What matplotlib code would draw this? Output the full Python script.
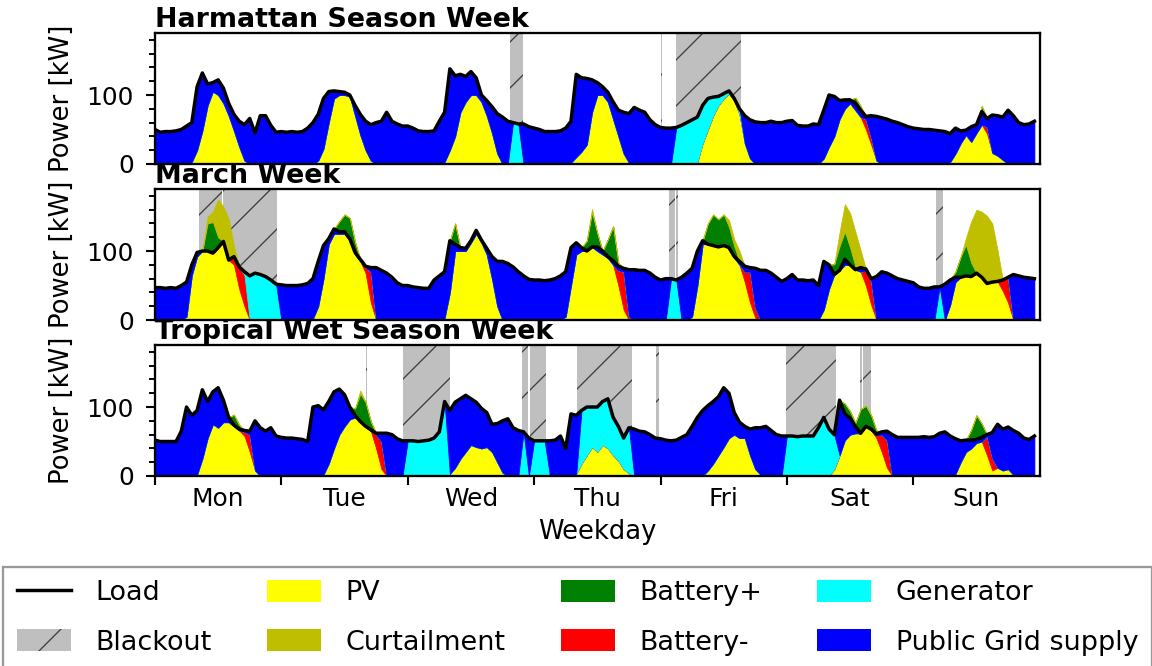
#!/usr/bin/env python3
"""
Weekly dispatch of the hybrid mini-grid: three representative weeks
(Harmattan, March, tropical wet season), hourly values in kW.
Stack under the load: PV, battery discharge, generator, public grid.
Stacked above the load: battery charging and curtailed PV.
"""

import numpy as np
import matplotlib
matplotlib.use('Agg')
import matplotlib.pyplot as plt
from matplotlib.lines import Line2D
from matplotlib.patches import Patch
from matplotlib.ticker import (MultipleLocator, AutoMinorLocator, FixedLocator,
                               FixedFormatter, NullFormatter)

DAYS = ['Mon', 'Tue', 'Wed', 'Thu', 'Fri', 'Sat', 'Sun']
TITLES = ['Harmattan Season Week', 'March Week', 'Tropical Wet Season Week']

# ---- Harmattan week (hourly, Mon 00:00 .. Sun 23:00) ----
HARM_LOAD = [
    50, 46, 47, 47, 48, 50, 55, 60, 112, 132, 116, 118, 122, 110, 88, 72, 62, 57, 66, 45, 70, 70, 56, 46,
    47, 46, 47, 46, 47, 52, 60, 72, 95, 105, 106, 105, 104, 100, 85, 72, 62, 57, 60, 62, 75, 62, 58, 55,
    55, 52, 48, 47, 47, 48, 62, 75, 138, 128, 130, 127, 134, 125, 100, 92, 83, 73, 68, 62, 60, 58, 58, 54,
    52, 50, 47, 47, 47, 48, 52, 62, 130, 125, 124, 122, 118, 112, 104, 90, 78, 75, 73, 82, 78, 75, 64, 57,
    53, 52, 52, 53, 56, 60, 64, 68, 85, 95, 97, 98, 102, 106, 95, 80, 70, 64, 61, 60, 60, 62, 60, 60,
    62, 63, 56, 55, 55, 58, 57, 78, 100, 98, 92, 93, 93, 88, 78, 69, 70, 69, 67, 65, 62, 60, 57, 54,
    52, 51, 50, 50, 49, 48, 47, 44, 52, 48, 49, 54, 57, 76, 66, 71, 70, 68, 78, 70, 60, 57, 58, 62,
]
HARM_PV = [
    0, 0, 0, 0, 0, 0, 0, 3, 20, 48, 85, 105, 100, 88, 70, 48, 25, 5, 0, 0, 0, 0, 0, 0,
    0, 0, 0, 0, 0, 0, 0, 5, 22, 60, 95, 100, 100, 98, 70, 42, 20, 5, 0, 0, 0, 0, 0, 0,
    0, 0, 0, 0, 0, 0, 0, 3, 20, 40, 75, 90, 100, 100, 90, 70, 45, 15, 0, 0, 0, 0, 0, 0,
    0, 0, 0, 0, 0, 0, 0, 2, 10, 18, 28, 75, 100, 100, 90, 65, 40, 15, 2, 0, 0, 0, 0, 0,
    0, 0, 0, 0, 0, 0, 0, 3, 30, 50, 70, 85, 95, 102, 92, 72, 30, 8, 0, 0, 0, 0, 0, 0,
    0, 0, 0, 0, 0, 0, 0, 8, 25, 40, 65, 80, 88, 78, 68, 50, 28, 5, 0, 0, 0, 0, 0, 0,
    0, 0, 0, 0, 0, 0, 0, 3, 15, 30, 42, 32, 45, 57, 44, 16, 12, 6, 0, 0, 0, 0, 0, 0,
]
HARM_BAT_DIS = {135: 15, 136: 10, 158: 10}
HARM_BAT_CHG = {133: 8, 134: 6, 157: 8}
HARM_CURT = {}
HARM_BLACKOUT = [(67.4, 69.8), (96.1, 96.3), (99.0, 111.3)]

# ---- March week ----
MAR_LOAD = [
    47, 47, 46, 47, 46, 50, 55, 80, 98, 100, 100, 97, 105, 114, 87, 92, 77, 70, 64, 68, 66, 63, 58, 52,
    51, 50, 50, 50, 51, 53, 60, 85, 108, 118, 132, 128, 128, 118, 98, 88, 78, 76, 76, 72, 68, 62, 54, 50,
    50, 48, 47, 46, 46, 58, 64, 70, 115, 110, 105, 104, 115, 130, 116, 104, 92, 85, 85, 82, 77, 70, 64, 59,
    58, 58, 57, 58, 60, 64, 70, 105, 112, 105, 100, 106, 106, 100, 92, 86, 78, 75, 73, 73, 72, 72, 68, 62,
    58, 60, 60, 58, 62, 68, 75, 100, 115, 110, 108, 106, 108, 105, 92, 85, 78, 76, 75, 72, 72, 68, 62, 56,
    60, 66, 58, 58, 57, 58, 50, 85, 80, 66, 72, 88, 80, 73, 76, 74, 60, 63, 70, 68, 64, 60, 58, 56,
    54, 48, 46, 46, 48, 48, 52, 58, 62, 62, 64, 63, 68, 62, 53, 55, 56, 58, 62, 66, 64, 62, 61, 60,
]
MAR_PV = [
    0, 0, 0, 0, 0, 0, 5, 65, 92, 100, 100, 97, 105, 114, 87, 80, 45, 20, 0, 0, 0, 0, 0, 0,
    0, 0, 0, 0, 0, 0, 2, 20, 60, 110, 125, 125, 125, 115, 95, 85, 68, 25, 0, 0, 0, 0, 0, 0,
    0, 0, 0, 0, 0, 0, 0, 3, 40, 100, 100, 100, 112, 125, 112, 95, 60, 20, 0, 0, 0, 0, 0, 0,
    0, 0, 0, 0, 0, 0, 5, 50, 95, 100, 100, 106, 100, 95, 90, 80, 50, 15, 0, 0, 0, 0, 0, 0,
    0, 0, 0, 0, 0, 0, 5, 50, 110, 110, 108, 106, 108, 105, 90, 80, 55, 25, 3, 0, 0, 0, 0, 0,
    0, 0, 0, 0, 0, 0, 0, 15, 45, 66, 72, 80, 80, 73, 70, 50, 22, 0, 0, 0, 0, 0, 0, 0,
    0, 0, 0, 0, 0, 0, 0, 22, 55, 62, 64, 63, 68, 62, 53, 55, 56, 42, 25, 0, 0, 0, 0, 0,
]
MAR_BAT_DIS = {15: 12, 16: 32, 17: 45, 40: 8, 41: 45, 88: 22, 89: 55, 90: 5,
               112: 15, 113: 45, 114: 15, 135: 22, 136: 35, 161: 16, 162: 37}
MAR_BAT_CHG = {10: 40, 11: 45, 12: 15, 35: 15, 36: 25, 37: 30, 38: 15, 57: 30,
               82: 15, 83: 50, 84: 20, 86: 25, 87: 50, 88: 5,
               105: 30, 106: 45, 107: 40, 108: 45, 109: 30, 110: 15,
               129: 15, 130: 35, 131: 40, 132: 25, 133: 5,
               152: 8, 153: 30, 154: 45, 155: 20}
MAR_CURT = {10: 10, 11: 15, 12: 55, 13: 50, 14: 60, 15: 15, 83: 5,
            109: 10, 110: 10, 111: 15, 130: 20, 131: 40, 132: 50, 133: 50, 134: 25,
            154: 10, 155: 60, 156: 92, 157: 95, 158: 98, 159: 85, 160: 45}
MAR_BLACKOUT = [(8.35, 12.75), (12.85, 23.2), (97.6, 98.8), (99.0, 99.3), (148.3, 149.6)]

# ---- Tropical wet season week ----
TROP_LOAD = [
    52, 50, 50, 50, 50, 65, 100, 88, 95, 125, 108, 122, 128, 110, 85, 74, 68, 66, 65, 80, 70, 65, 70, 58,
    56, 55, 55, 54, 53, 50, 100, 102, 96, 108, 122, 126, 118, 100, 88, 79, 72, 67, 62, 62, 62, 60, 54, 51,
    51, 51, 50, 51, 52, 55, 64, 108, 95, 107, 112, 117, 112, 107, 98, 92, 75, 76, 80, 83, 70, 66, 64, 55,
    51, 51, 51, 51, 52, 58, 40, 90, 88, 95, 100, 100, 100, 108, 112, 85, 72, 55, 70, 68, 65, 64, 60, 55,
    54, 52, 51, 52, 56, 60, 72, 85, 95, 102, 108, 115, 128, 120, 92, 78, 72, 68, 70, 70, 72, 66, 60, 58,
    58, 58, 57, 58, 58, 58, 70, 85, 68, 60, 110, 90, 84, 72, 62, 72, 68, 61, 64, 65, 60, 56, 56, 56,
    56, 56, 57, 56, 57, 62, 64, 58, 54, 51, 52, 52, 53, 56, 60, 63, 75, 68, 71, 66, 62, 55, 53, 58,
]
TROP_PV = [
    0, 0, 0, 0, 0, 0, 0, 0, 2, 25, 55, 75, 70, 78, 78, 72, 66, 58, 35, 8, 0, 0, 0, 0,
    0, 0, 0, 0, 0, 0, 0, 0, 2, 18, 40, 60, 72, 82, 85, 79, 72, 65, 40, 10, 0, 0, 0, 0,
    0, 0, 0, 0, 0, 0, 0, 0, 3, 12, 25, 35, 45, 42, 40, 42, 35, 20, 5, 0, 0, 0, 0, 0,
    0, 0, 0, 0, 0, 0, 0, 0, 3, 18, 30, 42, 35, 45, 40, 30, 22, 10, 4, 1, 0, 0, 0, 0,
    0, 0, 0, 0, 0, 0, 0, 0, 0, 8, 18, 30, 42, 55, 60, 55, 55, 30, 10, 2, 0, 0, 0, 0,
    0, 0, 0, 0, 0, 0, 0, 0, 0, 10, 30, 52, 60, 62, 62, 72, 66, 55, 35, 12, 0, 0, 0, 0,
    0, 0, 0, 0, 0, 0, 0, 0, 3, 20, 35, 40, 48, 50, 30, 8, 12, 8, 10, 2, 0, 0, 0, 0,
]
TROP_BAT_DIS = {17: 6, 18: 25, 42: 20, 43: 40, 137: 4, 138: 25, 139: 40, 158: 28, 159: 18}
TROP_BAT_CHG = {15: 15, 16: 6, 38: 10, 39: 40, 40: 35, 41: 12,
                131: 15, 132: 10, 133: 5, 134: 35, 135: 30, 136: 20, 137: 5,
                155: 15, 156: 35, 157: 20}
TROP_CURT = {39: 5}
TROP_BLACKOUT = [(40.15, 40.3), (47.1, 55.95), (69.7, 70.8), (71.3, 74.2), (80.2, 90.6),
                 (95.2, 95.7), (119.9, 129.3), (133.8, 134.2), (134.4, 135.9)]

C_PV, C_CURT, C_CHG, C_DIS = 'yellow', '#bfbf00', 'green', 'red'
C_GEN, C_GRID, C_OFF = 'cyan', 'blue', '#bfbfbf'
DPI = 138


def dense(d, n=168):
    a = np.zeros(n)
    for h, v in d.items():
        a[h] = v
    return a


def draw_week(ax, load, pv, bdis, bchg, curt, blackouts):
    hours = np.arange(len(load))
    load = np.asarray(load, float)
    pv = np.asarray(pv, float)
    bdis, bchg, curt = dense(bdis), dense(bchg), dense(curt)

    off = np.zeros(len(load), bool)
    for a, b in blackouts:
        off |= (hours >= a) & (hours <= b)
        ax.axvspan(a, b, facecolor=C_OFF, edgecolor='0.25', hatch='/', lw=0, zorder=0)

    # whatever PV + battery can't cover comes from the grid, or the genset in a blackout
    rest = np.clip(load - pv - bdis, 0, None)
    gen = np.where(off, rest, 0)
    grid = np.where(off, 0, rest)
    ax.stackplot(hours, pv, bdis, gen, grid, colors=[C_PV, C_DIS, C_GEN, C_GRID],
                 lw=0.4, edgecolor='face', zorder=1)
    ax.fill_between(hours, load, load + bchg, color=C_CHG, lw=0.4, zorder=1)
    ax.fill_between(hours, load + bchg, load + bchg + curt, color=C_CURT, lw=0.4, zorder=1)
    ax.plot(hours, load, color='k', lw=1.8, zorder=3)


def main():
    plt.rcParams['hatch.linewidth'] = 0.7
    fig = plt.figure(figsize=(1152 / DPI, 666 / DPI), dpi=DPI)

    weeks = [
        (HARM_LOAD, HARM_PV, HARM_BAT_DIS, HARM_BAT_CHG, HARM_CURT, HARM_BLACKOUT),
        (MAR_LOAD, MAR_PV, MAR_BAT_DIS, MAR_BAT_CHG, MAR_CURT, MAR_BLACKOUT),
        (TROP_LOAD, TROP_PV, TROP_BAT_DIS, TROP_BAT_CHG, TROP_CURT, TROP_BLACKOUT),
    ]
    bottoms = [0.7538, 0.5195, 0.2853]
    axes = []
    for k, (w, title) in enumerate(zip(weeks, TITLES)):
        ax = fig.add_axes([0.1345, bottoms[k], 0.768, 0.1967])
        draw_week(ax, *w)
        ax.set_xlim(0, 168)
        ax.set_ylim(0, 190)
        ax.set_title(title, loc='left', fontweight='bold', fontsize=14, pad=3)
        ax.set_ylabel('Power [kW]', fontsize=13.5, labelpad=6)
        ax.yaxis.set_major_locator(MultipleLocator(100))
        ax.yaxis.set_minor_locator(AutoMinorLocator(5))
        ax.tick_params(axis='y', which='major', direction='out', labelsize=13,
                       width=1.1, length=4.7, pad=6.3)
        ax.tick_params(axis='y', which='minor', direction='out', width=1.0, length=3)
        ax.xaxis.set_major_locator(FixedLocator(np.arange(0, 168, 24)))
        ax.xaxis.set_minor_locator(FixedLocator(np.arange(12, 168, 24)))
        ax.xaxis.set_major_formatter(NullFormatter())
        for s in ax.spines.values():
            s.set_linewidth(1.2)
        axes.append(ax)

    for ax in axes[:-1]:
        ax.tick_params(axis='x', which='both', length=0, labelbottom=False)
    ax = axes[-1]
    ax.xaxis.set_minor_formatter(FixedFormatter(DAYS))
    ax.tick_params(axis='x', which='major', direction='out', width=1.1, length=4.7)
    ax.tick_params(axis='x', which='minor', length=0, labelsize=13, pad=6)
    ax.set_xlabel('Weekday', fontsize=13.5)

    handles = [
        Line2D([], [], color='k', lw=1.8),
        Patch(facecolor=C_OFF, edgecolor='0.25', hatch='/', lw=0),
        Patch(facecolor=C_PV), Patch(facecolor=C_CURT),
        Patch(facecolor=C_CHG), Patch(facecolor=C_DIS),
        Patch(facecolor=C_GEN), Patch(facecolor=C_GRID),
    ]
    labels = ['Load', 'Blackout', 'PV', 'Curtailment', 'Battery+', 'Battery-',
              'Generator', 'Public Grid supply']
    leg = fig.legend(handles, labels, ncol=4, loc='upper left', bbox_to_anchor=(0.003, 0.149),
                     fontsize=14.1, fancybox=False, edgecolor='0.6', framealpha=1,
                     handletextpad=0.9, columnspacing=2.05, labelspacing=0.85,
                     handleheight=0.85, borderpad=0.5, borderaxespad=0)
    leg.get_frame().set_linewidth(1.2)

    fig.savefig('out.png', dpi=DPI)


if __name__ == '__main__':
    main()
